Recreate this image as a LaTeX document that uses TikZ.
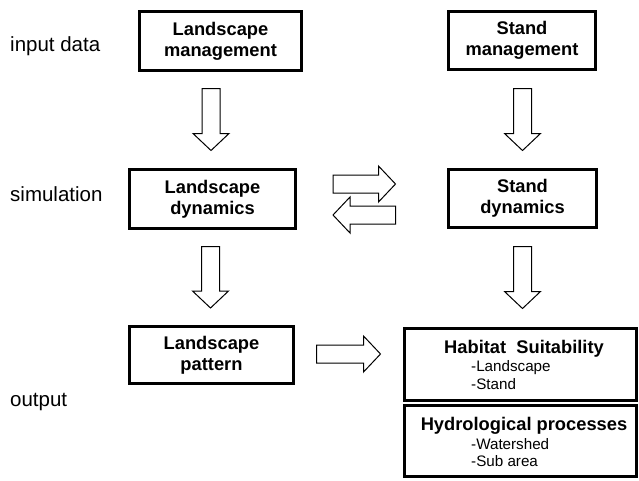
\documentclass[tikz,border=0pt]{standalone}
\usepackage{fontspec}
\setmainfont{Liberation Sans}
\usetikzlibrary{calc}
\tikzset{
  box/.style={draw, line width=3pt, inner sep=0pt, align=center, font=\fontsize{18.3}{21}\selectfont\bfseries,
    execute at begin node=\rule{0pt}{18pt}},
  head/.style={anchor=base, inner sep=0pt, font=\fontsize{18.3}{21}\selectfont\bfseries},
  lbl/.style={anchor=base west, inner sep=0pt, font=\fontsize{20.5}{24}\selectfont},
  item/.style={anchor=base west, inner sep=0pt, font=\fontsize{15.2}{18}\selectfont},
  fat/.style={draw, line width=1pt, fill=white, to path={
    let \p1=(\tikztostart), \p2=(\tikztotarget) in
    ($(\p2)!17pt!(\p1)$) coordinate (fh)
    ($(\p1)!9pt!90:(\p2)$) -- ($(fh)!9pt!90:(\p2)$) -- ($(fh)!18pt!90:(\p2)$)
    -- (\p2) -- ($(fh)!18pt!-90:(\p2)$) -- ($(fh)!9pt!-90:(\p2)$)
    -- ($(\p1)!9pt!-90:(\p2)$) -- cycle}}
}
\begin{document}
\begin{tikzpicture}[x=1pt,y=-1pt]
	\useasboundingbox (0,0) rectangle (639,480);
	\node[lbl] (in) at (10,51.7) {input data};
	\node[lbl] (sim) at (10,201) {simulation};
	\node[lbl] (out) at (10,406.5) {output};
	\node[box, minimum width=162, minimum height=59] (lm) at (220.5,41) {Landscape\\management};
	\node[box, minimum width=147, minimum height=58] (sm) at (522,40.5) {Stand\\management};
	\node[box, minimum width=166, minimum height=59] (ld) at (212.5,199) {Landscape\\dynamics};
	\node[box, minimum width=148, minimum height=58] (sd) at (522.5,198.5) {Stand\\dynamics};
	\node[box, minimum width=164, minimum height=57] (lp) at (211.5,355) {Landscape\\pattern};
	\node[box, minimum width=232, minimum height=72] (hs) at (520.5,364) {};
	\node[box, minimum width=232, minimum height=71] (hp) at (520.5,441) {};
	\node[head] (hs-t) at (524,353.3) {Habitat\ \ Suitability};
	\node[item] (hs-a) at (471,371.7) {-Landscape};
	\node[item] (hs-b) at (471,389.3) {-Stand};
	\node[head] (hp-t) at (524,430) {Hydrological processes};
	\node[item] (hp-a) at (471,449.3) {-Watershed};
	\node[item] (hp-b) at (471,466.7) {-Sub area};
	\draw[fat] ($(ld.north |- lm.south)+(-1.5,16.5)$) to ($(ld.north)+(-1.5,-17.5)$);
	\draw[fat] ($(sd.north |- sm.south)+(0,17.5)$) to ($(sd.north)+(0,-17.5)$);
	\draw[fat] ($(ld.east)+(36,-15)$) to ($(ld.east -| sd.west)+(-51.5,-15)$);
	\draw[fat] ($(ld.east -| sd.west)+(-51.5,16)$) to ($(ld.east)+(36,16)$);
	\draw[fat] ($(lp.north |- ld.south)+(-1,16.5)$) to ($(lp.north)+(-1,-17)$);
	\draw[fat] ($(sd.south)+(0,17.5)$) to ($(sd.south |- hs.north)+(0,-18)$);
	\draw[fat] ($(lp.east)+(21.5,-1)$) to ($(lp.east -| hs.west)+(-22.5,-1)$);
\end{tikzpicture}
\end{document}
